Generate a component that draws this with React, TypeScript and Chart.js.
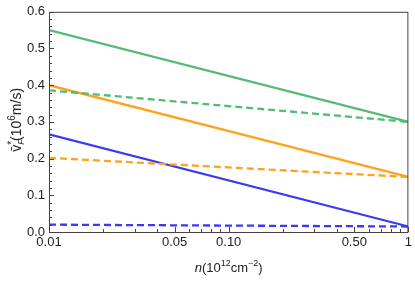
import React, { useEffect, useRef } from "react";
import { Chart, registerables } from "chart.js";

Chart.register(...registerables);

const nValues = [0.01, 1];
const greenSolid = [0.55, 0.3];
const greenDashed = [0.386, 0.3];
const orangeSolid = [0.4, 0.15];
const orangeDashed = [0.202, 0.15];
const blueSolid = [0.266, 0.015];
const blueDashed = [0.02, 0.015];

const xTickValues = [0.01, 0.05, 0.1, 0.5, 1];
const xTickLabels = ["0.01", "0.05", "0.10", "0.50", "1"];
const xMinorTicks = [0.02, 0.03, 0.04, 0.06, 0.07, 0.08, 0.09, 0.2, 0.3, 0.4, 0.6, 0.7, 0.8, 0.9];

const GREEN = "rgb(84,186,116)";
const ORANGE = "rgb(255,162,28)";
const BLUE = "rgb(58,58,240)";
const FONT = "'Liberation Sans', Arial, sans-serif";

type Seg = { t: string; size: number; dy: number; italic?: boolean; back?: boolean };

function drawSegs(ctx: CanvasRenderingContext2D, segs: Seg[], cx: number, cy: number) {
  let total = 0;
  const widths: number[] = [];
  segs.forEach((s) => {
    ctx.font = `${s.italic ? "italic " : ""}${s.size}px ${FONT}`;
    const w = ctx.measureText(s.t).width;
    widths.push(w);
    if (!s.back) total += w;
  });
  let x = cx - total / 2;
  let prevW = 0;
  segs.forEach((s, i) => {
    ctx.font = `${s.italic ? "italic " : ""}${s.size}px ${FONT}`;
    if (s.back) {
      ctx.fillText(s.t, x - prevW, cy + s.dy);
      prevW = 0;
    } else {
      ctx.fillText(s.t, x, cy + s.dy);
      x += widths[i];
      prevW = widths[i];
    }
  });
}

const framePlugin = {
  id: "frame",
  afterDraw(chart: any) {
    const { ctx, chartArea } = chart;
    const xs = chart.scales.x;
    const ys = chart.scales.y;
    ctx.save();
    ctx.strokeStyle = "#444";
    ctx.lineWidth = 1;
    ctx.strokeRect(chartArea.left + 0.5, chartArea.top + 0.5, chartArea.right - chartArea.left - 1, chartArea.bottom - chartArea.top);
    ctx.beginPath();
    for (let i = 0; i <= 30; i++) {
      const v = i * 0.02;
      const y = Math.round(ys.getPixelForValue(v)) + 0.5;
      const len = i % 5 === 0 ? 5 : 3;
      ctx.moveTo(chartArea.left, y);
      ctx.lineTo(chartArea.left + len, y);
    }
    xTickValues.forEach((v) => {
      const x = Math.round(xs.getPixelForValue(v)) + 0.5;
      ctx.moveTo(x, chartArea.bottom);
      ctx.lineTo(x, chartArea.bottom - 5);
    });
    xMinorTicks.forEach((v) => {
      const x = Math.round(xs.getPixelForValue(v)) + 0.5;
      ctx.moveTo(x, chartArea.bottom);
      ctx.lineTo(x, chartArea.bottom - 3);
    });
    ctx.stroke();

    ctx.fillStyle = "#222";
    ctx.textBaseline = "alphabetic";
    ctx.textAlign = "left";
    const cxm = (chartArea.left + chartArea.right) / 2;
    drawSegs(
      ctx,
      [
        { t: "n", size: 13, dy: 0, italic: true },
        { t: "(10", size: 13, dy: 0 },
        { t: "12", size: 9, dy: -6 },
        { t: "cm", size: 13, dy: 0 },
        { t: "\u22122", size: 9, dy: -6 },
        { t: ")", size: 13, dy: 0 },
      ],
      cxm,
      272
    );
    ctx.save();
    ctx.translate(21, (chartArea.top + chartArea.bottom) / 2 - 2);
    ctx.rotate(-Math.PI / 2);
    drawSegs(
      ctx,
      [
        { t: "v\u0304", size: 14, dy: 0 },
        { t: "*", size: 10, dy: -6 },
        { t: "F", size: 9, dy: 3, italic: true, back: true },
        { t: "(10", size: 14, dy: 0 },
        { t: "6", size: 10, dy: -6 },
        { t: "m/s)", size: 14, dy: 0 },
      ],
      0,
      0
    );
    ctx.restore();
    ctx.restore();
  },
};

export default function App() {
  const ref = useRef<HTMLCanvasElement>(null);
  useEffect(() => {
    document.body.style.margin = "0";
    const mk = (label: string, data: number[], color: string, dashed: boolean) => ({
      label,
      data: nValues.map((x, i) => ({ x, y: data[i] })),
      borderColor: color,
      backgroundColor: color,
      borderWidth: 2.3,
      borderDash: dashed ? [7, 4] : [],
      pointRadius: 0,
      tension: 0,
      fill: false,
    });
    const chart = new Chart(ref.current!, {
      type: "line",
      data: {
        datasets: [
          mk("green solid", greenSolid, GREEN, false),
          mk("green dashed", greenDashed, GREEN, true),
          mk("orange solid", orangeSolid, ORANGE, false),
          mk("orange dashed", orangeDashed, ORANGE, true),
          mk("blue solid", blueSolid, BLUE, false),
          mk("blue dashed", blueDashed, BLUE, true),
        ],
      },
      options: {
        animation: false,
        responsive: false,
        events: [],
        layout: { padding: { top: 9, right: 5, left: 0, bottom: 0 } },
        plugins: { legend: { display: false }, tooltip: { enabled: false } },
        scales: {
          x: {
            type: "logarithmic",
            min: 0.01,
            max: 1,
            grid: { display: false, drawTicks: false },
            border: { display: false },
            afterBuildTicks: (s: any) => {
              s.ticks = xTickValues.map((v) => ({ value: v }));
            },
            afterFit: (s: any) => {
              s.height = 49;
            },
            ticks: {
              autoSkip: false,
              maxRotation: 0,
              padding: 3,
              color: "#222",
              font: { family: FONT, size: 13 },
              callback: (v: any) => {
                const i = xTickValues.findIndex((t) => Math.abs(t - Number(v)) < 1e-9);
                return i >= 0 ? xTickLabels[i] : "";
              },
            },
          },
          y: {
            type: "linear",
            min: 0,
            max: 0.6,
            grid: { display: false, drawTicks: false },
            border: { display: false },
            afterFit: (s: any) => {
              s.width = 49;
            },
            ticks: {
              stepSize: 0.1,
              padding: 4,
              color: "#222",
              font: { family: FONT, size: 13 },
              callback: (v: any) => Number(v).toFixed(1),
            },
          },
        },
      },
      plugins: [framePlugin],
    } as any);
    return () => chart.destroy();
  }, []);
  return (
    <div style={{ width: 415, height: 281 }}>
      <canvas ref={ref} width={415} height={281} />
    </div>
  );
}
